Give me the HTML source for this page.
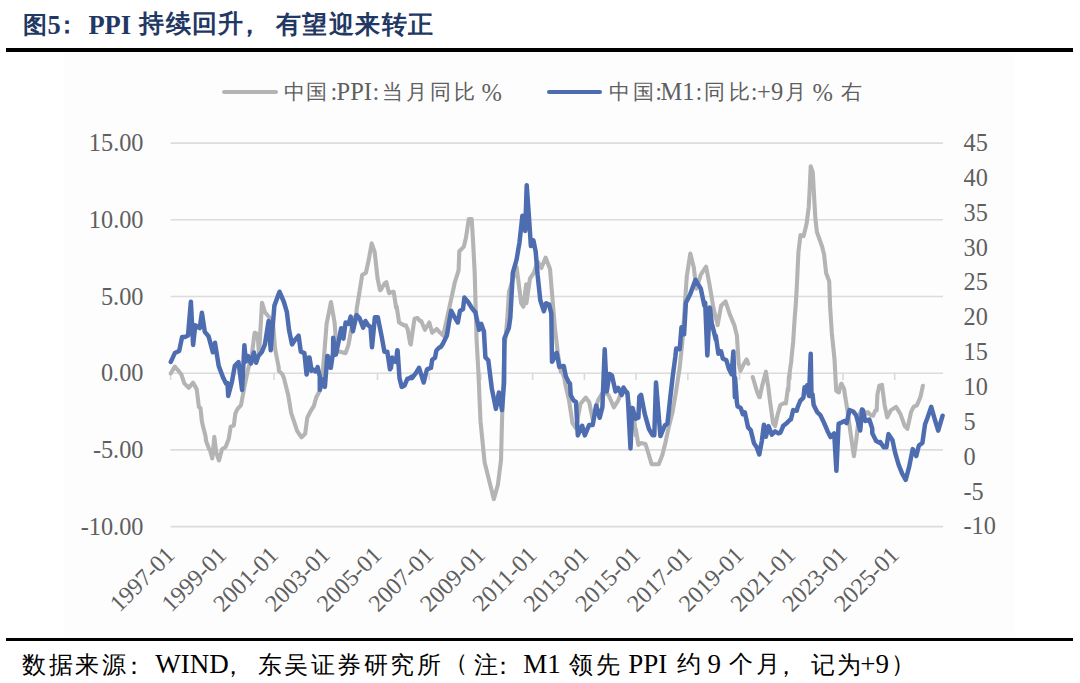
<!DOCTYPE html>
<html><head><meta charset="utf-8"><style>
html,body{margin:0;padding:0;background:#fff;width:1080px;height:683px;overflow:hidden}
svg{position:absolute;left:0;top:0}
text{white-space:pre}
</style></head><body>
<svg width="1080" height="683" viewBox="0 0 1080 683" font-family="Liberation Serif, serif">
<rect x="64" y="52" width="951" height="586" fill="#FDFDFD"/>
<rect x="6" y="48" width="1067" height="4" fill="#000"/>
<rect x="6" y="638" width="1067" height="3" fill="#000"/>
<g stroke="#DCDCDC" stroke-width="1.6"><line x1="170.6" y1="143.1" x2="943.0" y2="143.1"/><line x1="170.6" y1="219.8" x2="943.0" y2="219.8"/><line x1="170.6" y1="296.5" x2="943.0" y2="296.5"/><line x1="170.6" y1="373.2" x2="943.0" y2="373.2"/><line x1="170.6" y1="449.9" x2="943.0" y2="449.9"/><line x1="170.6" y1="526.6" x2="943.0" y2="526.6"/></g>
<g stroke="#D9D9D9" stroke-width="1.6"><line x1="170.6" y1="373" x2="170.6" y2="380"/><line x1="222.3" y1="373" x2="222.3" y2="380"/><line x1="274.0" y1="373" x2="274.0" y2="380"/><line x1="325.8" y1="373" x2="325.8" y2="380"/><line x1="377.5" y1="373" x2="377.5" y2="380"/><line x1="429.2" y1="373" x2="429.2" y2="380"/><line x1="480.9" y1="373" x2="480.9" y2="380"/><line x1="532.6" y1="373" x2="532.6" y2="380"/><line x1="584.4" y1="373" x2="584.4" y2="380"/><line x1="636.1" y1="373" x2="636.1" y2="380"/><line x1="687.8" y1="373" x2="687.8" y2="380"/><line x1="739.5" y1="373" x2="739.5" y2="380"/><line x1="791.2" y1="373" x2="791.2" y2="380"/><line x1="843.0" y1="373" x2="843.0" y2="380"/><line x1="894.7" y1="373" x2="894.7" y2="380"/></g>
<g font-size="24.3" fill="#5F5F5F" text-anchor="end"><text x="143.5" y="151.1">15.00</text><text x="143.5" y="227.8">10.00</text><text x="143.5" y="304.5">5.00</text><text x="143.5" y="381.2">0.00</text><text x="143.5" y="457.9">-5.00</text><text x="143.5" y="534.6">-10.00</text></g>
<g font-size="24.3" fill="#5F5F5F"><text x="963.5" y="150.9">45</text><text x="963.5" y="185.8">40</text><text x="963.5" y="220.6">35</text><text x="963.5" y="255.5">30</text><text x="963.5" y="290.4">25</text><text x="963.5" y="325.2">20</text><text x="963.5" y="360.1">15</text><text x="963.5" y="394.9">10</text><text x="963.5" y="429.8">5</text><text x="963.5" y="464.7">0</text><text x="963.5" y="499.5">-5</text><text x="963.5" y="534.4">-10</text></g>
<g font-size="24" fill="#5F5F5F" text-anchor="end"><text transform="translate(176.1,556.5) rotate(-45)">1997-01</text><text transform="translate(227.8,556.5) rotate(-45)">1999-01</text><text transform="translate(279.5,556.5) rotate(-45)">2001-01</text><text transform="translate(331.3,556.5) rotate(-45)">2003-01</text><text transform="translate(383.0,556.5) rotate(-45)">2005-01</text><text transform="translate(434.7,556.5) rotate(-45)">2007-01</text><text transform="translate(486.4,556.5) rotate(-45)">2009-01</text><text transform="translate(538.1,556.5) rotate(-45)">2011-01</text><text transform="translate(589.9,556.5) rotate(-45)">2013-01</text><text transform="translate(641.6,556.5) rotate(-45)">2015-01</text><text transform="translate(693.3,556.5) rotate(-45)">2017-01</text><text transform="translate(745.0,556.5) rotate(-45)">2019-01</text><text transform="translate(796.7,556.5) rotate(-45)">2021-01</text><text transform="translate(848.5,556.5) rotate(-45)">2023-01</text><text transform="translate(900.2,556.5) rotate(-45)">2025-01</text></g>
<path d="M170.7 373.5 L174.8 366.6 L179.2 371.7 L181.4 374.6 L184.3 383.4 L188.7 387.8 L193.1 382.7 L196.7 389.3 L198.9 406.9 L200.5 408.2 L201.9 421.5 L203.1 426.6 L205.5 436.1 L206.1 441.0 L209.2 449.3 L209.7 449.2 L212.3 458.4 L214.3 436.9 L216.4 453.3 L219.0 460.5 L222.0 449.2 L225.6 447.1 L228.7 438.9 L230.7 426.6 L233.8 425.6 L235.4 413.3 L237.4 409.2 L241.0 405.1 L244.4 386.9 L248.1 369.3 L251.7 356.1 L254.6 332.7 L257.6 334.2 L259.0 354.7 L262.0 302.7 L264.9 312.2 L269.3 317.3 L272.9 322.5 L275.1 348.8 L275.9 353.2 L278.8 367.8 L278.8 370.7 L282.5 374.4 L283.9 378.1 L288.3 395.6 L291.2 413.2 L294.2 422.0 L297.1 430.8 L301.5 437.4 L305.2 433.7 L307.3 417.6 L310.3 411.7 L313.9 405.9 L316.1 397.8 L319.8 390.5 L322.0 381.0 L324.2 354.6 L326.6 323.9 L331.0 302.0 L334.6 322.5 L336.8 351.7 L340.5 351.7 L345.6 353.2 L348.6 344.4 L352.2 323.9 L356.4 313.7 L356.6 309.3 L359.3 293.2 L359.5 291.7 L362.2 274.9 L365.9 272.7 L368.8 259.5 L371.7 243.4 L374.7 252.2 L377.6 278.6 L380.0 290.2 L380.5 290.3 L384.4 283.7 L386.4 282.2 L388.8 292.4 L389.3 293.2 L393.2 291.7 L393.7 291.7 L396.1 307.8 L396.6 306.4 L399.1 322.5 L404.2 325.4 L405.9 325.4 L407.8 329.8 L410.2 343.7 L410.8 344.4 L413.7 323.9 L414.6 318.8 L416.6 318.1 L417.6 318.1 L420.0 321.0 L421.2 321.0 L424.9 329.8 L429.3 322.5 L432.2 332.7 L436.6 329.0 L439.5 332.0 L443.2 335.6 L454.9 282.0 L458.6 270.3 L459.3 251.2 L463.7 246.9 L465.9 238.1 L468.8 219.0 L471.7 219.0 L473.2 243.9 L474.7 273.2 L476.6 340.0 L478.4 372.0 L480.5 421.2 L484.6 462.2 L489.7 482.7 L493.8 499.1 L497.9 484.8 L501.0 460.2 L502.0 421.2 L503.0 390.5 L504.4 348.6 L507.3 319.3 L509.0 291.8 L516.6 267.1 L521.2 303.2 L523.4 306.8 L526.2 284.2 L526.4 303.2 L530.0 278.5 L533.8 272.8 L537.6 261.4 L541.4 268.0 L545.6 257.6 L550.0 269.0 L554.9 328.1 L557.6 351.1 L557.8 353.0 L560.8 372.0 L561.1 368.7 L564.6 379.2 L565.2 383.7 L569.0 400.3 L572.5 423.1 L576.0 428.4 L580.4 403.8 L585.7 397.6 L589.2 402.0 L592.7 419.6 L598.0 400.3 L603.3 391.5 L608.5 395.0 L613.8 407.3 L618.2 400.3 L623.5 387.1 L627.8 393.3 L627.9 399.2 L631.4 412.6 L633.2 408.0 L635.8 435.4 L635.8 429.1 L638.4 444.9 L639.3 444.2 L641.1 443.1 L645.5 444.0 L649.0 455.4 L651.6 464.2 L658.7 464.2 L662.2 455.4 L665.7 441.4 L668.3 429.1 L672.7 411.5 L676.2 390.4 L679.7 367.6 L682.4 341.4 L685.0 302.7 L686.8 276.4 L690.3 253.5 L693.8 267.6 L696.4 288.7 L700.8 274.6 L706.1 266.7 L709.6 285.1 L713.1 306.2 L714.1 311.1 L717.5 323.8 L717.6 325.1 L721.1 305.8 L725.5 301.4 L729.9 314.6 L734.3 325.1 L736.9 335.7 L738.7 363.8 L740.4 370.8 L743.9 363.8 L746.6 359.4 L748.3 363.8 M752.7 377.0 L757.1 391.9 L759.3 397.1 L759.7 397.2 L762.4 384.9 L765.9 371.7 L768.5 388.4 L769.8 399.8 L773.1 423.5 L775.1 426.1 L777.7 414.3 L780.4 405.0 L785.7 402.4 L785.9 403.4 L787.8 388.4 L788.1 388.8 L788.3 390.5 L788.8 378.4 L791.4 360.3 L791.4 359.1 L793.2 341.5 L794.0 328.7 L794.9 315.1 L795.8 304.1 L796.7 288.8 L798.4 252.5 L800.5 235.1 L803.6 236.1 L806.6 223.8 L808.7 207.4 L809.7 188.9 L810.7 166.4 L812.8 172.5 L813.8 191.0 L815.3 217.6 L816.9 232.0 L822.0 246.3 L824.1 254.5 L826.1 273.0 L829.2 281.2 L830.1 306.4 L831.8 332.7 L834.5 359.1 L836.2 390.7 L838.9 392.4 L840.8 384.4 L841.5 383.7 L844.1 388.9 L844.4 391.7 L847.3 409.3 L850.3 431.2 L853.9 456.1 L856.1 441.5 L859.1 415.1 L862.0 409.3 L866.4 413.7 L867.9 412.2 L870.8 415.1 L873.2 415.7 L875.2 410.7 L876.7 410.4 L877.4 394.6 L879.3 385.8 L882.0 384.9 L884.6 405.1 L887.2 417.4 L890.7 410.4 L896.0 406.9 L900.4 413.9 L904.8 426.2 L907.4 428.9 L911.0 412.2 L913.6 406.9 L917.1 405.1 L920.6 396.4 L922.9 385.8" fill="none" stroke="#B4B4B4" stroke-width="4.1" stroke-linejoin="round" stroke-linecap="round"/>
<path d="M170.8 361.9 L174.8 353.1 L179.2 350.9 L182.1 337.0 L185.0 337.0 L188.0 335.5 L190.9 301.8 L193.1 345.0 L195.3 325.3 L199.7 328.2 L201.9 312.8 L204.8 331.9 L208.5 336.2 L212.9 352.3 L215.0 342.8 L218.7 365.9 L220.2 369.9 L223.1 377.6 L226.0 383.4 L227.5 383.1 L228.2 395.9 L231.9 382.0 L234.8 365.9 L238.5 362.2 L242.1 390.0 L244.4 345.2 L245.8 361.5 L248.1 356.1 L251.0 363.5 L253.9 352.5 L256.1 362.7 L258.3 356.1 L262.0 351.7 L264.9 344.4 L268.6 321.0 L270.7 350.3 L274.4 305.6 L279.5 291.7 L283.9 302.0 L286.9 312.2 L289.0 329.8 L292.0 344.4 L294.9 340.0 L298.6 335.6 L300.8 351.7 L304.4 353.2 L304.4 353.2 L306.6 374.4 L307.3 371.5 L308.8 357.6 L309.5 357.6 L311.7 370.8 L311.7 369.3 L314.7 370.0 L315.4 371.5 L317.6 367.8 L317.6 367.1 L319.8 376.6 L319.8 389.8 L322.7 379.5 L324.9 386.9 L327.3 356.1 L327.8 356.1 L330.2 367.8 L330.8 367.8 L333.0 353.2 L333.2 337.8 L335.4 354.7 L335.9 354.6 L338.3 343.0 L341.2 328.3 L343.4 338.6 L345.6 322.5 L348.6 323.9 L350.7 316.6 L352.9 331.2 L356.6 315.1 L359.5 318.1 L363.2 327.6 L365.4 321.0 L368.3 325.4 L370.5 326.9 L372.0 347.3 L374.9 317.3 L377.8 317.3 L381.5 335.6 L384.4 351.7 L387.3 351.7 L390.0 369.3 L391.0 367.8 L392.2 357.6 L393.9 361.3 L395.9 362.0 L397.3 350.2 L397.6 350.3 L399.5 378.1 L401.7 386.9 L404.6 385.4 L407.3 378.8 L408.3 378.8 L411.7 376.6 L412.0 378.1 L415.4 373.7 L415.6 373.7 L419.0 367.8 L419.3 368.6 L423.7 382.5 L426.6 370.7 L427.1 369.3 L430.7 367.8 L431.0 367.8 L432.2 359.8 L433.2 359.0 L435.1 357.6 L436.1 351.7 L436.6 350.3 L439.5 347.3 L440.5 347.3 L442.5 344.4 L446.9 335.6 L449.0 322.5 L451.2 310.7 L454.2 316.6 L457.8 322.5 L460.0 310.7 L463.0 309.3 L464.4 297.6 L468.1 302.0 L471.7 307.8 L475.1 312.0 L475.4 312.2 L478.8 328.1 L479.1 329.8 L481.0 324.4 L481.3 323.9 L483.5 330.5 L483.9 331.0 L485.4 357.3 L485.7 357.6 L487.8 359.8 L488.3 360.3 L491.8 388.4 L495.9 408.9 L498.9 392.5 L502.0 410.0 L504.1 382.3 L504.4 338.3 L508.8 328.1 L510.3 317.8 L512.8 272.8 L516.6 259.5 L519.5 242.3 L522.4 215.7 L525.2 230.9 L526.7 185.2 L529.0 217.6 L530.9 246.1 L533.4 240.4 L535.7 251.8 L537.6 274.7 L540.3 300.2 L543.9 311.2 L546.1 303.2 L549.1 304.6 L551.3 313.4 L552.0 361.7 L552.3 361.6 L556.4 353.0 L556.7 352.8 L559.3 366.9 L559.3 366.9 L563.0 366.1 L563.7 366.0 L565.9 376.4 L566.4 377.4 L569.0 382.7 L570.0 383.7 L570.7 395.0 L573.4 400.3 L576.0 402.0 L577.8 435.4 L582.2 425.8 L584.8 435.4 L589.2 424.9 L592.7 424.9 L596.2 405.5 L599.7 417.8 L602.4 407.3 L604.7 349.3 L606.8 391.5 L609.4 373.9 L612.0 375.7 L615.5 391.5 L618.2 388.0 L621.7 395.0 L623.5 387.8 L626.1 392.4 L627.0 392.2 L627.8 396.8 L630.5 448.4 L632.2 409.1 L632.3 408.0 L635.8 418.7 L635.8 418.5 L638.4 417.6 L639.3 396.8 L641.1 394.8 L644.6 413.3 L649.0 429.1 L652.5 435.2 L654.3 435.2 L656.0 382.5 L660.4 436.1 L664.8 425.5 L667.4 423.8 L670.1 399.2 L672.7 376.4 L675.3 357.0 L676.2 348.4 L679.7 349.3 L681.5 327.3 L684.1 334.3 L685.9 302.7 L690.3 293.9 L695.5 279.9 L700.8 288.7 L704.4 305.8 L705.2 302.7 L707.3 355.4 L707.4 355.0 L709.7 307.6 L710.0 308.0 L712.2 327.3 L712.3 325.1 L715.8 339.6 L715.8 335.7 L718.4 353.7 L718.4 350.6 L721.1 351.5 L722.8 358.5 L726.4 360.3 L729.0 369.1 L731.6 374.3 L733.4 351.5 L734.9 397.1 L735.1 377.8 L736.9 402.4 L737.6 406.4 L740.4 407.7 L740.8 408.3 L742.8 414.3 L744.8 412.3 L748.1 427.4 L750.7 430.1 L754.0 443.3 L756.7 447.2 L759.3 454.5 L761.9 440.6 L763.9 424.8 L765.9 436.7 L768.5 426.1 L771.8 434.7 L775.1 431.4 L778.4 433.4 L780.4 432.7 L782.9 426.9 L783.0 426.1 L786.6 423.2 L787.0 422.8 L790.2 419.5 L790.9 419.5 L793.2 410.0 L793.6 410.3 L796.8 410.7 L797.5 407.7 L799.8 402.0 L800.0 401.1 L803.4 397.6 L804.6 387.2 L806.4 387.3 L807.2 385.4 L808.6 394.6 L809.0 396.0 L810.7 353.8 L811.5 396.1 L812.5 394.2 L813.7 404.9 L817.3 412.2 L820.3 415.1 L823.9 422.5 L827.6 431.2 L830.5 437.1 L834.2 433.4 L836.4 470.8 L838.6 423.9 L841.5 422.5 L844.4 421.0 L846.6 423.2 L849.5 410.0 L853.2 411.5 L856.1 415.1 L860.2 430.5 L862.1 409.5 L862.7 410.0 L865.3 421.0 L865.7 419.5 L868.8 421.0 L869.3 419.5 L872.2 428.3 L872.3 433.3 L875.8 440.3 L875.9 440.8 L880.0 443.0 L880.2 442.0 L883.7 447.3 L886.4 447.3 L888.5 434.1 L892.5 440.3 L895.1 452.6 L898.7 464.9 L902.2 473.7 L905.7 479.8 L909.2 466.6 L912.7 449.1 L916.2 456.1 L918.9 445.5 L922.4 442.9 L925.0 424.5 L927.6 417.4 L931.2 406.9 L934.7 419.2 L938.2 430.6 L942.6 415.7" fill="none" stroke="#4E6DB1" stroke-width="4.5" stroke-linejoin="round" stroke-linecap="round"/>
<line x1="224" y1="92" x2="276" y2="92" stroke="#B4B4B4" stroke-width="4" stroke-linecap="round"/>
<line x1="549" y1="92" x2="600" y2="92" stroke="#4E6DB1" stroke-width="4" stroke-linecap="round"/>
<text x="23.40" y="32.50" font-size="24.00" font-weight="600" fill="#1F3864" style="letter-spacing:0.00px">图</text>
<text x="47.40" y="34.30" font-size="26.50" font-weight="bold" fill="#1F3864" style="letter-spacing:0.00px">5</text>
<text x="55.00" y="32.50" font-size="24.00" font-weight="600" fill="#1F3864" style="letter-spacing:0.00px">：</text>
<text x="88.45" y="34.30" font-size="26.50" font-weight="bold" fill="#1F3864" style="letter-spacing:0.00px">PPI</text>
<text x="139.40" y="32.30" font-size="25.00" font-weight="600" fill="#1F3864" style="letter-spacing:1.33px">持续回升</text>
<text x="237.00" y="33.00" font-size="25.00" font-weight="600" fill="#1F3864" style="letter-spacing:0.00px">，</text>
<text x="275.60" y="32.80" font-size="25.00" font-weight="600" fill="#1F3864" style="letter-spacing:1.52px">有望迎来转正</text>
<text x="22.20" y="672.70" font-size="24.00" fill="#000" style="letter-spacing:2.47px">数据来源</text>
<text x="121.80" y="673.75" font-size="24.00" fill="#000" style="letter-spacing:0.00px">：</text>
<text x="155.28" y="673.35" font-size="27.00" fill="#000" style="letter-spacing:0.00px">WIND</text>
<text x="220.80" y="674.00" font-size="24.00" fill="#000" style="letter-spacing:0.00px">，</text>
<text x="257.60" y="672.70" font-size="24.00" fill="#000" style="letter-spacing:2.53px">东吴证券研究所</text>
<text x="444.00" y="671.00" font-size="24.00" fill="#000" style="letter-spacing:0.00px">（</text>
<text x="473.60" y="672.70" font-size="24.00" fill="#000" style="letter-spacing:0.00px">注</text>
<text x="491.40" y="673.70" font-size="24.00" fill="#000" style="letter-spacing:0.00px">：</text>
<text x="523.20" y="673.35" font-size="27.00" fill="#000" style="letter-spacing:0.00px">M1</text>
<text x="568.60" y="672.70" font-size="24.00" fill="#000" style="letter-spacing:3.00px">领先</text>
<text x="628.30" y="673.35" font-size="27.00" fill="#000" style="letter-spacing:0.00px">PPI</text>
<text x="676.80" y="672.20" font-size="24.00" fill="#000" style="letter-spacing:0.00px">约</text>
<text x="707.60" y="673.35" font-size="27.00" fill="#000" style="letter-spacing:0.00px">9</text>
<text x="729.00" y="672.20" font-size="24.00" fill="#000" style="letter-spacing:2.80px">个月</text>
<text x="773.60" y="674.00" font-size="24.00" fill="#000" style="letter-spacing:0.00px">，</text>
<text x="811.40" y="672.70" font-size="24.00" fill="#000" style="letter-spacing:1.60px">记为</text>
<text x="860.20" y="673.35" font-size="27.00" fill="#000" style="letter-spacing:0.00px">+9</text>
<text x="891.40" y="671.50" font-size="24.00" fill="#000" style="letter-spacing:0.00px">）</text>
<text x="284.40" y="98.70" font-size="21.00" fill="#5F5F5F" style="letter-spacing:1.00px">中国</text>
<text x="330.40" y="99.75" font-size="24.50" fill="#5F5F5F" style="letter-spacing:0.00px">:</text>
<text x="336.50" y="100.25" font-size="24.50" fill="#5F5F5F" style="letter-spacing:0.00px">PPI</text>
<text x="372.40" y="99.75" font-size="24.50" fill="#5F5F5F" style="letter-spacing:0.00px">:</text>
<text x="381.80" y="98.70" font-size="21.00" fill="#5F5F5F" style="letter-spacing:2.93px">当月同比</text>
<text x="481.60" y="100.60" font-size="24.50" fill="#5F5F5F" style="letter-spacing:0.00px">%</text>
<text x="609.20" y="98.70" font-size="21.00" fill="#5F5F5F" style="letter-spacing:2.60px">中国</text>
<text x="655.20" y="99.75" font-size="24.50" fill="#5F5F5F" style="letter-spacing:0.00px">:</text>
<text x="660.55" y="100.45" font-size="24.50" fill="#5F5F5F" style="letter-spacing:0.00px">M1</text>
<text x="695.60" y="99.75" font-size="24.50" fill="#5F5F5F" style="letter-spacing:0.00px">:</text>
<text x="704.40" y="98.70" font-size="21.00" fill="#5F5F5F" style="letter-spacing:3.60px">同比</text>
<text x="750.80" y="99.75" font-size="24.50" fill="#5F5F5F" style="letter-spacing:0.00px">:</text>
<text x="757.10" y="100.25" font-size="24.50" fill="#5F5F5F" style="letter-spacing:0.00px">+9</text>
<text x="785.40" y="98.70" font-size="21.00" fill="#5F5F5F" style="letter-spacing:0.00px">月</text>
<text x="812.40" y="100.60" font-size="24.50" fill="#5F5F5F" style="letter-spacing:0.00px">%</text>
<text x="840.60" y="99.20" font-size="21.00" fill="#5F5F5F" style="letter-spacing:0.00px">右</text>
</svg>
</body></html>
